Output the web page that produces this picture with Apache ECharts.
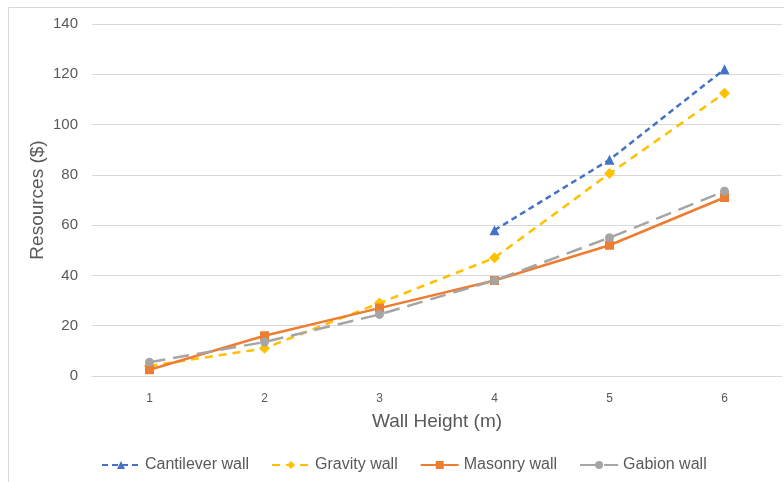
<!DOCTYPE html>
<html>
<head>
<meta charset="utf-8">
<script src="https://cdn.jsdelivr.net/npm/echarts@6/dist/echarts.min.js"></script>
<style>
  html, body { margin: 0; padding: 0; background: #fff; }
  #chart { width: 784px; height: 482px; }
</style>
</head>
<body>
<div id="chart"></div>
<script>
// Wall heights (m) on the category axis
const heights = ['1', '2', '3', '4', '5', '6'];

// Resource cost per wall type ($)
const cantilever = [null, null, null, 58, 86, 122];
const gravity    = [4, 11, 29, 47, 80.5, 112.5];
const masonry    = [2.5, 16, 27, 38, 52, 71];
const gabion     = [5.5, 13.5, 24.5, 38, 55, 73.5];

const seriesNames = ['Cantilever wall', 'Gravity wall', 'Masonry wall', 'Gabion wall'];

const font = 'Liberation Sans, Arial, sans-serif';
const chart = echarts.init(document.getElementById('chart'));

function line(name, data, color, dash, symbol, size) {
  return {
    name: name,
    type: 'line',
    data: data,
    symbol: symbol,
    symbolSize: size,
    connectNulls: false,
    lineStyle: { color: color, width: 2.5, type: dash },
    itemStyle: { color: color },
    z: 3
  };
}

chart.setOption({
  animation: false,
  backgroundColor: '#fff',
  graphic: [{
    type: 'rect',
    shape: { x: 8.5, y: 7.5, width: 790, height: 490 },
    style: { fill: 'none', stroke: '#d9d9d9', lineWidth: 1 },
    silent: true
  }],
  grid: { left: 92, right: 2, top: 24, bottom: 106 },
  legend: {
    top: 452,
    left: 96,
    itemGap: 22,
    itemWidth: 38,
    itemHeight: 10,
    textStyle: { fontFamily: font, fontSize: 16, color: '#595959' },
    data: seriesNames
  },
  xAxis: {
    type: 'category',
    data: heights,
    boundaryGap: true,
    name: 'Wall Height (m)',
    nameLocation: 'middle',
    nameGap: 36,
    nameMoveOverlap: false,
    nameTextStyle: { fontFamily: font, fontSize: 19, color: '#595959' },
    axisLine: { show: true, lineStyle: { color: '#d9d9d9' } },
    axisTick: { show: false },
    axisLabel: { fontFamily: font, fontSize: 12, color: '#595959', margin: 17 }
  },
  yAxis: {
    type: 'value',
    min: 0,
    max: 140,
    interval: 20,
    name: 'Resources ($)',
    nameLocation: 'middle',
    nameGap: 45,
    nameMoveOverlap: false,
    nameTextStyle: { fontFamily: font, fontSize: 19, color: '#595959' },
    axisLine: { show: false },
    axisTick: { show: false },
    axisLabel: { fontFamily: font, fontSize: 15, color: '#595959', margin: 14 },
    splitLine: { lineStyle: { color: '#d9d9d9', width: 1 } }
  },
  series: [
    line(seriesNames[0], cantilever, '#4472C4', [6, 4], 'triangle', 10),
    line(seriesNames[1], gravity, '#FFC000', [8, 6], 'diamond', 11),
    line(seriesNames[2], masonry, '#ED7D31', 'solid', 'rect', 9),
    line(seriesNames[3], gabion, '#A5A5A5', [16, 8], 'circle', 9)
  ]
});
</script>
</body>
</html>
